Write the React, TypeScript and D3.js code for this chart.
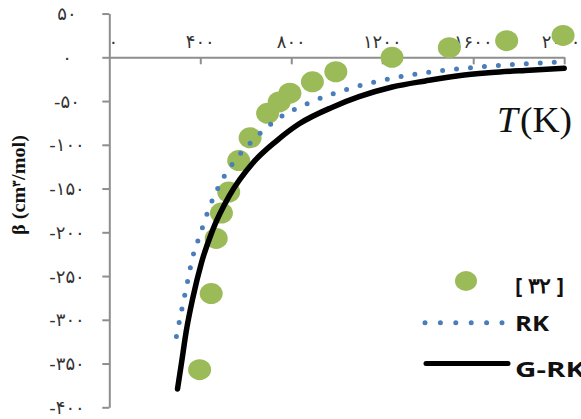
import React, { useEffect, useRef } from 'react'
import * as d3 from 'd3'

// reference data [32]
const refT = [397, 448, 470, 493, 525, 569, 619, 696, 747, 794, 893, 996, 1243, 1495, 1747, 1995]
const refBeta = [-357, -270, -207, -178, -154, -118, -92, -64, -51, -41, -28, -16.5, 0, 11, 19, 25]

// RK curve
const rkT = [295, 318, 342, 365, 400, 438, 488, 552, 631, 721, 888, 1066, 1378, 1633, 2000]
const rkBeta = [-319, -289, -259, -230, -202, -173, -144, -118, -95, -74, -51, -35, -18, -11, -5]

// G-RK curve
const grkT = [300, 317, 339, 368, 405, 455, 528, 630, 733, 835, 981, 1098, 1244, 1390, 1536, 1681, 1828, 2000]
const grkBeta = [-379, -350, -312, -274, -235, -197, -158, -121, -96, -76, -57, -45, -34, -27, -21, -17.5, -15, -12.5]

const xTicks = [0, 400, 800, 1200, 1600, 2000]
const xTickLabels = ['۰', '۴۰۰', '۸۰۰', '۱۲۰۰', '۱۶۰۰', '۲۰۰۰']
const yTicks = [50, 0, -50, -100, -150, -200, -250, -300, -350, -400]
const yTickLabels = ['۵۰', '۰', '-۵۰', '-۱۰۰', '-۱۵۰', '-۲۰۰', '-۲۵۰', '-۳۰۰', '-۳۵۰', '-۴۰۰']

const legendLabels = ['[ ۳۲ ]', 'RK', 'G-RK']

const W = 581
const H = 419

export default function App() {
  const ref = useRef<SVGSVGElement>(null)

  useEffect(() => {
    const svg = d3.select(ref.current)
    svg.selectAll('*').remove()

    const x = d3.scaleLinear().domain([0, 2000]).range([109.3, 564.2])
    const y = d3.scaleLinear().domain([-400, 50]).range([407.3, 13.55])

    const axisColor = '#8e8e8e'
    const labelFont = '"DejaVu Sans", sans-serif'

    // y axis
    const gy = svg.append('g').attr('transform', `translate(${x(0)},0)`)
      .call(d3.axisLeft(y).tickValues(yTicks).tickSize(7).tickSizeOuter(0).tickFormat(() => ''))
    gy.select('.domain').attr('stroke', axisColor).attr('stroke-width', 2)
    gy.selectAll('.tick line').attr('stroke', axisColor).attr('stroke-width', 2)

    // x axis at zero
    const gx = svg.append('g').attr('transform', `translate(0,${y(0)})`)
      .call(d3.axisBottom(x).tickValues(xTicks.slice(1)).tickSize(7).tickSizeOuter(0).tickFormat(() => ''))
    gx.select('.domain').attr('stroke', axisColor).attr('stroke-width', 2)
    gx.selectAll('.tick line').attr('stroke', axisColor).attr('stroke-width', 2)

    // tick labels (first sits right of the axis, last pulled in from the edge)
    const last = xTicks.length - 1
    svg.append('g').selectAll('text')
      .data(xTicks)
      .join('text')
      .attr('x', (d, i) => x(d) + (i === 0 ? 4 : i === last ? -3 : 0))
      .attr('y', 41)
      .attr('text-anchor', 'middle')
      .attr('dominant-baseline', 'central')
      .attr('font-family', labelFont)
      .attr('font-size', 18)
      .attr('fill', '#333')
      .text((d, i) => xTickLabels[i])

    svg.append('g').selectAll('text')
      .data(yTicks)
      .join('text')
      .attr('x', 67)
      .attr('y', d => y(d))
      .attr('text-anchor', 'middle')
      .attr('dominant-baseline', 'central')
      .attr('font-family', labelFont)
      .attr('font-size', 18)
      .attr('fill', '#333')
      .text((d, i) => yTickLabels[i])

    // axis titles
    const yt = svg.append('text')
      .attr('transform', 'translate(25,185) rotate(-90)')
      .attr('text-anchor', 'middle')
      .attr('font-family', '"Liberation Serif", serif')
      .attr('font-weight', 'bold')
      .attr('font-size', 18)
      .attr('fill', '#111')
      .attr('textLength', 100)
      .attr('lengthAdjust', 'spacingAndGlyphs')
    yt.append('tspan').text('β (cm')
    yt.append('tspan').attr('font-size', 11).attr('baseline-shift', '45%').text('۳')
    yt.append('tspan').text('/mol)')

    const xt = svg.append('text')
      .attr('x', 497)
      .attr('y', 131.7)
      .attr('font-family', '"Liberation Serif", serif')
      .attr('font-size', 35)
      .attr('fill', '#111')
      .attr('textLength', 75)
      .attr('lengthAdjust', 'spacingAndGlyphs')
    xt.append('tspan').attr('font-style', 'italic').text('T')
    xt.append('tspan').attr('dx', 2).text('(K)')

    // reference points
    const green = '#9bbb59'
    svg.append('g').selectAll('ellipse')
      .data(refT)
      .join('ellipse')
      .attr('cx', d => x(d))
      .attr('cy', (d, i) => y(refBeta[i]))
      .attr('rx', 11.5)
      .attr('ry', 10.5)
      .attr('fill', green)

    const line = d3.line<[number, number]>()
      .curve(d3.curveMonotoneX)

    const blue = '#4a7ebb'
    svg.append('path')
      .attr('d', line(rkT.map((t, i) => [x(t), y(rkBeta[i])] as [number, number])))
      .attr('fill', 'none')
      .attr('stroke', blue)
      .attr('stroke-width', 5)
      .attr('stroke-linecap', 'round')
      .attr('stroke-dasharray', '0 14')

    svg.append('path')
      .attr('d', line(grkT.map((t, i) => [x(t), y(grkBeta[i])] as [number, number])))
      .attr('fill', 'none')
      .attr('stroke', '#000')
      .attr('stroke-width', 5.5)
      .attr('stroke-linecap', 'round')

    // legend
    const lg = svg.append('g')
    lg.append('ellipse').attr('cx', 466).attr('cy', 281).attr('rx', 11).attr('ry', 10).attr('fill', green)
    lg.append('line').attr('x1', 425).attr('x2', 502).attr('y1', 322.7).attr('y2', 322.7)
      .attr('stroke', blue).attr('stroke-width', 5).attr('stroke-linecap', 'round')
      .attr('stroke-dasharray', '0 15.4')
    lg.append('line').attr('x1', 426).attr('x2', 508).attr('y1', 363.5).attr('y2', 363.5)
      .attr('stroke', '#000').attr('stroke-width', 5).attr('stroke-linecap', 'round')

    const legY = [285, 322.5, 368.5]
    const legLen = [49, 34, 70]
    lg.selectAll('text.leg')
      .data(legendLabels)
      .join('text')
      .attr('class', 'leg')
      .attr('x', 515)
      .attr('y', (d, i) => legY[i])
      .attr('dominant-baseline', 'central')
      .attr('font-family', '"Open Sans", sans-serif')
      .attr('font-weight', 'bold')
      .attr('font-size', 21)
      .attr('fill', '#111')
      .attr('textLength', (d, i) => legLen[i])
      .attr('lengthAdjust', 'spacingAndGlyphs')
      .text(d => d)
  }, [])

  return (
    <svg ref={ref} width={W} height={H}
      style={{ position: 'absolute', left: 0, top: 0, background: '#fff' }} />
  )
}
